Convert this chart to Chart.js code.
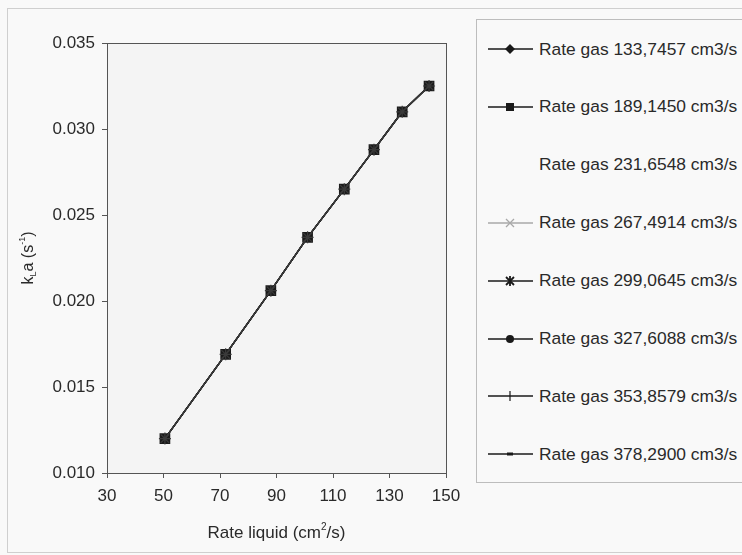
<!DOCTYPE html>
<html>
<head>
<meta charset="utf-8">
<script src="https://cdn.jsdelivr.net/npm/chart.js@4/dist/chart.umd.min.js"></script>
<style>
  html, body { margin:0; padding:0; background:#f9f9f9; }
  #wrap { position:relative; width:742px; height:555px; overflow:hidden; font-family:"Liberation Sans", Arial, sans-serif; }
  #outer { position:absolute; left:7px; top:8px; width:745px; height:545px; border:1px solid #cfcfcf; box-sizing:border-box; }
  canvas { position:absolute; left:0; top:0; }
  #legend { position:absolute; left:476px; top:19px; width:300px; height:464px; border:1px solid #bdbdbd; box-sizing:border-box; background:#f9f9f9; }
  .row { position:absolute; left:10px; height:20px; display:flex; align-items:center; font-size:17.4px; color:#2a2a2a; white-space:nowrap; }
  .row svg { margin-right:5px; }
</style>
</head>
<body>
<div id="wrap">
  <div id="outer"></div>
  <canvas id="c" width="742" height="555"></canvas>
  <div id="legend"></div>
</div>
<script>
// ---- data ----
const rateLiquid = [50.5, 72, 88, 101, 114, 124.5, 134.5, 144];
const kLa        = [0.0120, 0.0169, 0.0206, 0.0237, 0.0265, 0.0288, 0.0310, 0.0325];
const seriesNames = [
  "Rate gas 133,7457 cm3/s",
  "Rate gas 189,1450 cm3/s",
  "Rate gas 231,6548 cm3/s",
  "Rate gas 267,4914 cm3/s",
  "Rate gas 299,0645 cm3/s",
  "Rate gas 327,6088 cm3/s",
  "Rate gas 353,8579 cm3/s",
  "Rate gas 378,2900 cm3/s"
];
const xTicks = [30, 50, 70, 90, 110, 130, 150];
const yTicks = [0.010, 0.015, 0.020, 0.025, 0.030, 0.035];

// ---- styles per series ----
const styles = [
  {color:'#1a1a1a', point:'rectRot', r:4,  line:true, order:5},
  {color:'#1a1a1a', point:'rect',    r:6.5, line:true, order:1},
  {color:'rgba(0,0,0,0)', point:'triangle', r:0, line:false, order:7},
  {color:'#a8a8a8', point:'crossRot', r:5, line:true, order:6},
  {color:'#1a1a1a', point:'star',    r:6,  line:true, order:0},
  {color:'#1a1a1a', point:'circle',  r:3,  line:true, order:4},
  {color:'#1a1a1a', point:'line',    r:0,  line:true, order:3},
  {color:'#1a1a1a', point:'line',    r:0,  line:true, order:2}
];

const datasets = seriesNames.map((name, i) => ({
  label: name,
  data: rateLiquid.map((x, j) => ({x: x, y: kLa[j]})),
  borderColor: styles[i].color,
  backgroundColor: styles[i].color,
  pointStyle: styles[i].point,
  pointRadius: styles[i].r,
  pointBorderWidth: i === 4 ? 1.2 : 1.5,
  borderWidth: 1.3,
  showLine: styles[i].line,
  order: styles[i].order,
  fill: false,
  tension: 0
}));
datasets[4].borderColor = '#3a3a3a';

const CA = {left:107, top:43, right:446, bottom:473};

const framePlugin = {
  id: 'frame',
  beforeDraw(chart) {
    const {ctx, chartArea:a} = chart;
    ctx.save();
    ctx.fillStyle = '#f4f4f4';
    ctx.fillRect(a.left, a.top, a.right - a.left, a.bottom - a.top);
    ctx.restore();
  },
  afterDatasetsDraw(chart) {
    const {ctx, chartArea:a} = chart;
    ctx.save();
    ctx.strokeStyle = '#555';
    ctx.lineWidth = 1;
    ctx.strokeRect(a.left + 0.5, a.top + 0.5, a.right - a.left, a.bottom - a.top);
    ctx.restore();
  },
  afterDraw(chart) {
    const {ctx, chartArea:a} = chart;
    ctx.save();
    ctx.fillStyle = '#2a2a2a';
    ctx.textBaseline = 'middle';
    const f = '17px "Liberation Sans", Arial, sans-serif';
    const fs = '10px "Liberation Sans", Arial, sans-serif';
    const p1 = 'Rate liquid (cm', p2 = '2', p3 = '/s)';
    ctx.font = f; const w1 = ctx.measureText(p1).width, w3 = ctx.measureText(p3).width;
    ctx.font = fs; const w2 = ctx.measureText(p2).width;
    let x = (a.left + a.right) / 2 - (w1 + w2 + w3) / 2;
    const y = a.bottom + 60;
    ctx.textAlign = 'left';
    ctx.font = f; ctx.fillText(p1, x, y); x += w1;
    ctx.font = fs; ctx.fillText(p2, x, y - 6); x += w2;
    ctx.font = f; ctx.fillText(p3, x, y);
    ctx.translate(29, (a.top + a.bottom) / 2);
    ctx.rotate(-Math.PI / 2);
    const parts = [
      {t:'k', f:'16px "Liberation Sans", Arial, sans-serif', dy:0},
      {t:'L', f:'9px "Liberation Sans", Arial, sans-serif', dy:5},
      {t:'a (s', f:'16px "Liberation Sans", Arial, sans-serif', dy:0},
      {t:'-1', f:'9px "Liberation Sans", Arial, sans-serif', dy:-6},
      {t:')', f:'16px "Liberation Sans", Arial, sans-serif', dy:0}
    ];
    let tw = 0;
    parts.forEach(p => { ctx.font = p.f; p.w = ctx.measureText(p.t).width; tw += p.w; });
    let px = -tw / 2;
    parts.forEach(p => { ctx.font = p.f; ctx.fillText(p.t, px, p.dy); px += p.w; });
    ctx.restore();
  }
};

new Chart(document.getElementById('c'), {
  type: 'scatter',
  data: { datasets },
  options: {
    responsive: false,
    animation: false,
    layout: { padding: { left: 0, top: CA.top, right: 742 - CA.right, bottom: 0 } },
    plugins: { legend: { display: false }, tooltip: { enabled: false } },
    scales: {
      x: {
        type: 'linear', min: 30, max: 150,
        afterBuildTicks(s) { s.ticks = xTicks.map(v => ({value: v})); },
        afterFit(s) { s.height = 555 - CA.bottom; },
        ticks: { color:'#2a2a2a', font:{family:'"Liberation Sans", Arial, sans-serif', size:17}, padding: 8, maxRotation:0 },
        grid: { display:true, drawOnChartArea:false, drawTicks:true, tickLength:5, color:'#555' },
        border: { display:true, color:'#555' }
      },
      y: {
        type: 'linear', min: 0.010, max: 0.035,
        afterBuildTicks(s) { s.ticks = yTicks.map(v => ({value: v})); },
        afterFit(s) { s.width = CA.left; },
        ticks: { color:'#2a2a2a', font:{family:'"Liberation Sans", Arial, sans-serif', size:17}, padding: 7,
                 callback: v => v.toFixed(3) },
        grid: { display:true, drawOnChartArea:false, drawTicks:true, tickLength:5, color:'#555' },
        border: { display:true, color:'#555' }
      }
    }
  },
  plugins: [framePlugin]
});

// ---- HTML legend ----
function icon(i) {
  const s = styles[i];
  const c = s.color;
  let m = '';
  if (s.line) m += `<line x1="1" y1="10" x2="46" y2="10" stroke="${c}" stroke-width="1.5"/>`;
  const cx = 23, cy = 10;
  switch (s.point) {
    case 'rectRot': m += `<polygon points="${cx},${cy-5} ${cx+5},${cy} ${cx},${cy+5} ${cx-5},${cy}" fill="${c}"/>`; break;
    case 'rect': m += `<rect x="${cx-4}" y="${cy-4}" width="8" height="8" fill="${c}"/>`; break;
    case 'crossRot': m += `<path d="M${cx-4} ${cy-4}L${cx+4} ${cy+4}M${cx+4} ${cy-4}L${cx-4} ${cy+4}" stroke="${c}" stroke-width="1.3"/>`; break;
    case 'star': m += `<path d="M${cx-4} ${cy-4}L${cx+4} ${cy+4}M${cx+4} ${cy-4}L${cx-4} ${cy+4}M${cx} ${cy-5}L${cx} ${cy+5}" stroke="${c}" stroke-width="1.8"/>`; break;
    case 'circle': m += `<circle cx="${cx}" cy="${cy}" r="4" fill="${c}"/>`; break;
  }
  if (i === 6) m += `<line x1="${cx}" y1="${cy-5}" x2="${cx}" y2="${cy+5}" stroke="${c}" stroke-width="1.2"/>`;
  if (i === 7) m += `<line x1="${cx-3}" y1="${cy}" x2="${cx+3}" y2="${cy}" stroke="${c}" stroke-width="3"/>`;
  return `<svg width="47" height="20" viewBox="0 0 47 20">${m}</svg>`;
}
const leg = document.getElementById('legend');
seriesNames.forEach((name, i) => {
  const d = document.createElement('div');
  d.className = 'row';
  d.style.top = (48 - 19 - 10 + i * 57.9) + 'px';
  d.innerHTML = icon(i) + '<span>' + name + '</span>';
  leg.appendChild(d);
});
</script>
</body>
</html>
